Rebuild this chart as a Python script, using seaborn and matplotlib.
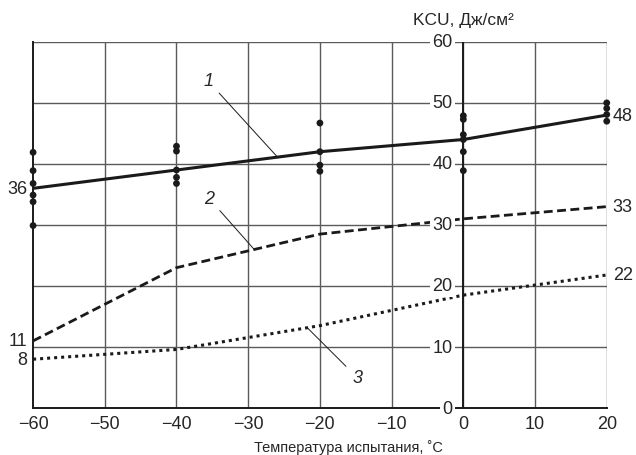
import numpy as np
import pandas as pd
import matplotlib
matplotlib.use("Agg")
import matplotlib.pyplot as plt
import seaborn as sns

sns.set_style("white")
plt.rcParams["font.family"] = ["Liberation Sans", "DejaVu Sans"]

# test temperatures, C
temps = [-60, -40, -20, 0, 20]

# mean curves, KCU J/cm2
kcu_1 = [36, 39, 42, 44, 48]
kcu_2 = [11, 23, 28.5, 31, 33]
kcu_3 = [8, 9.6, 13.5, 18.5, 21.8]

# individual test results for curve 1
pts_temp = [-60] * 6 + [-40] * 5 + [-20] * 4 + [0] * 6 + [20] * 4
pts_kcu = [41.9, 38.9, 36.8, 34.9, 33.8, 29.9,
           42.9, 42.1, 39.0, 37.8, 36.8,
           46.7, 42.0, 39.8, 38.8,
           47.9, 47.3, 44.8, 44.0, 42.0, 38.9,
           50.0, 49.1, 48.1, 47.0]

xticks = [-60, -50, -40, -30, -20, -10, 0, 10, 20]
yticks = [0, 10, 20, 30, 40, 50, 60]
left_labels = ["36", "11", "8"]
right_labels = ["48", "33", "22"]

curves = pd.DataFrame({
    "t": temps * 3,
    "kcu": kcu_1 + kcu_2 + kcu_3,
    "curve": ["1"] * 5 + ["2"] * 5 + ["3"] * 5,
})
points = pd.DataFrame({"t": pts_temp, "kcu": pts_kcu})

fig = plt.figure(figsize=(6.36, 4.56), dpi=100)
ax = fig.add_axes([0.052, 0.103, 0.902, 0.803])

# grid
for x in xticks[1:]:
    ax.axvline(x, color="#5a5a5a", lw=1.0, zorder=1)
for y in yticks[1:]:
    ax.axhline(y, color="#5a5a5a", lw=1.0, zorder=1)
ax.axvline(0, color="#1a1a1a", lw=1.4, zorder=2)

styles = {"1": (2.2, None), "2": (2.0, (3.2, 1.6)), "3": (2.2, (1.0, 1.3))}
for name, grp in curves.groupby("curve"):
    lw, dash = styles[name]
    sns.lineplot(data=grp, x="t", y="kcu", ax=ax, color="#1a1a1a",
                 lw=lw, zorder=4)
    if dash is not None:
        ax.lines[-1].set_dashes(dash)
        ax.lines[-1].set_dash_capstyle("butt")

sns.scatterplot(data=points, x="t", y="kcu", ax=ax, color="#1a1a1a",
                s=24, edgecolor="none", zorder=5, legend=False, clip_on=False)

ax.set_xlim(-60, 20)
ax.set_ylim(0, 60)
ax.set_xticks(xticks)
ax.set_xticklabels([str(x).replace("-", "\u2212") for x in xticks], fontsize=13)
ax.set_yticks([])
ax.tick_params(axis="x", length=0, pad=5)
for s in ["top", "right"]:
    ax.spines[s].set_visible(False)
for s in ["left", "bottom"]:
    ax.spines[s].set_color("#1a1a1a")
    ax.spines[s].set_linewidth(1.4)
ax.set_xlabel("Температура испытания, ˚C", fontsize=10.5, labelpad=2)
ax.xaxis.set_label_coords(0.55, -0.085)
ax.set_ylabel("")

# y-axis labels on the 0 line
for y in yticks:
    ax.text(-1.5, y, str(y), ha="right", va="center", fontsize=13, zorder=6,
            bbox=dict(facecolor="white", edgecolor="none", pad=1.5))
ax.text(0, 63.6, "KCU, Дж/см²", ha="center", va="center", fontsize=12.5,
        clip_on=False)

# end values
for lab, v in zip(left_labels, [kcu_1[0], kcu_2[0], kcu_3[0]]):
    ax.text(-60.85, v, lab, ha="right", va="center", fontsize=13, clip_on=False)
for lab, v in zip(right_labels, [kcu_1[-1], kcu_2[-1], kcu_3[-1]]):
    ax.text(20.85, v, lab, ha="left", va="center", fontsize=13, clip_on=False)

# curve numbers with leaders
kw = dict(fontsize=13, style="italic", ha="center", va="center",
          arrowprops=dict(arrowstyle="-", color="#1a1a1a", lw=0.7,
                          shrinkA=3, shrinkB=0))
ax.annotate("1", xy=(-25.9, 41.1), xytext=(-35.6, 53.6), **kw)
ax.annotate("2", xy=(-29.1, 25.9), xytext=(-35.5, 34.4), **kw)
ax.annotate("3", xy=(-21.8, 13.2), xytext=(-14.8, 5.0), **kw)

fig.savefig("out.png", dpi=100)
